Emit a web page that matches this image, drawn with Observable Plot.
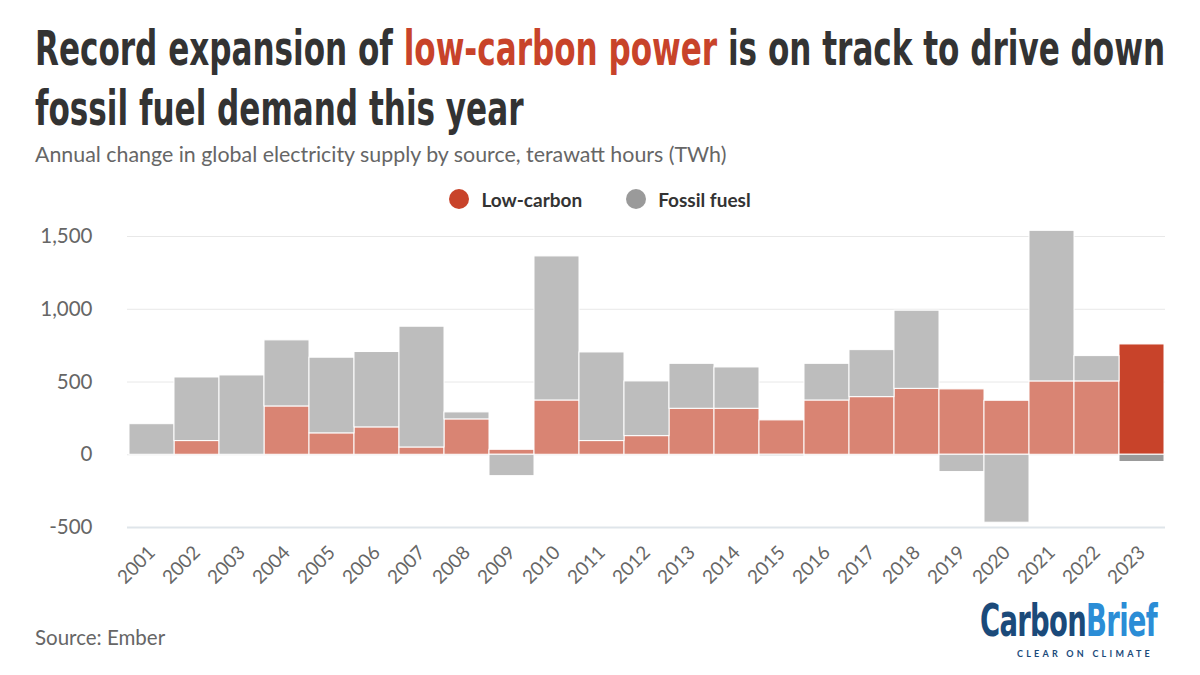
<!DOCTYPE html>
<html>
<head>
<meta charset="utf-8">
<script src="https://cdn.jsdelivr.net/npm/d3@7"></script>
<script src="https://cdn.jsdelivr.net/npm/@observablehq/plot@0.6"></script>
<style>
  html, body { margin: 0; padding: 0; background: #fff; }
  body { width: 1200px; height: 675px; position: relative; overflow: hidden; font-family: Lato, "Open Sans", sans-serif; }
  .abs { position: absolute; white-space: nowrap; }
  .title { left: 35px; font-family: "Liberation Sans Narrow", "DejaVu Sans Condensed", sans-serif; font-weight: bold; font-size: 48px; line-height: 60px; color: #333; transform-origin: left center; }
  .title .hl { color: #c8432a; }
  #subtitle { left: 35px; top: 142px; font-size: 20px; line-height: 24px; color: #666; }
  #legend { left: 0; width: 1200px; top: 187px; height: 24px; display: flex; justify-content: center; align-items: center; font-weight: bold; font-size: 19px; color: #333; }
  #legend .item { display: flex; align-items: center; margin: 0 22px; }
  #legend .sw { width: 20px; height: 20px; border-radius: 50%; margin-right: 12px; }
  #chart { position: absolute; left: 0; top: 220px; }
  #source { left: 35px; top: 625px; font-size: 20.5px; line-height: 24px; color: #666; }
  #logo { left: 980px; top: 603px; font-family: "Liberation Sans Narrow", "DejaVu Sans Condensed", sans-serif; font-weight: bold; font-size: 44px; line-height: 36px; letter-spacing: -1px; transform-origin: left center; }
  #logo .c { color: #1b4a7a; }
  #logo .b { color: #2b8dd6; }
  #tag { left: 1017px; top: 648px; font-size: 9px; line-height: 11px; letter-spacing: 3.5px; color: #1b4a7a; font-weight: bold; }
</style>
</head>
<body>
<div id="t1" class="abs title">Record expansion of <span class="hl">low-carbon power</span> is on track to drive down</div>
<div id="t2" class="abs title">fossil fuel demand this year</div>
<div id="subtitle" class="abs">Annual change in global electricity supply by source, terawatt hours (TWh)</div>
<div id="legend" class="abs">
  <div class="item"><span class="sw" style="background:#c8432a"></span>Low-carbon</div>
  <div class="item"><span class="sw" style="background:#9a9a9a"></span>Fossil fuesl</div>
</div>
<div id="chart"></div>
<div id="source" class="abs">Source: Ember</div>
<div id="logo" class="abs"><span class="c">Carbon</span><span class="b">Brief</span></div>
<div id="tag" class="abs">CLEAR ON CLIMATE</div>
<script>
// ---- Data (TWh) ----
const years = ["2001","2002","2003","2004","2005","2006","2007","2008","2009","2010","2011","2012",
               "2013","2014","2015","2016","2017","2018","2019","2020","2021","2022","2023"];
const lowCarbon = [0, 94, 0, 332, 147, 188, 50, 243, 34, 373, 94, 128,
                   316, 316, 236, 373, 396, 453, 449, 371, 504, 504, 758];
const fossil = [210, 437, 545, 454, 520, 518, 830, 48, -147, 990, 609, 376,
                309, 284, -11, 252, 323, 537, -119, -467, 1035, 174, -50];
const yTicks = [-500, 0, 500, 1000, 1500];
const highlightYear = "2023";

const rows = [];
years.forEach((y, i) => rows.push({year: y, source: "Low-carbon", value: lowCarbon[i]}));
years.forEach((y, i) => rows.push({year: y, source: "Fossil", value: fossil[i]}));

const fillFor = d => d.source === "Low-carbon"
  ? (d.year === highlightYear ? "#c8432a" : "#d98473")
  : (d.year === highlightYear ? "#9a9a9a" : "#bdbdbd");

const chart = Plot.plot({
  width: 1200,
  height: 400,
  marginTop: 16,
  marginBottom: 93,
  marginLeft: 127,
  marginRight: 35,
  style: { fontFamily: "Lato, 'Open Sans', sans-serif", color: "#666", background: "#fff" },
  x: { type: "band", domain: years, padding: 0 },
  y: { domain: [-500, 1500] },
  marks: [
    Plot.gridY([0, 500, 1000, 1500], { stroke: "#e8e8e8", strokeOpacity: 1 }),
    Plot.ruleY([-500], { stroke: "#dfe5ea", strokeWidth: 2 }),
    Plot.barY(rows, { x: "year", y: "value", fill: fillFor, stroke: "#fff", strokeWidth: 1 }),
    Plot.axisY({ ticks: yTicks, tickFormat: d => d.toLocaleString("en-US"), tickSize: 0, tickPadding: 35, fontSize: 20.5, label: null }),
    Plot.axisX({ tickRotate: -45, tickSize: 0, tickPadding: 22, fontSize: 19, label: null })
  ]
});
document.getElementById("chart").appendChild(chart);

// Fit helpers for text widths
function fitScale(el, target) {
  const w = el.getBoundingClientRect().width;
  if (w > 0) el.style.transform = `scaleX(${target / w})`;
}
const t1 = document.getElementById("t1"), t2 = document.getElementById("t2");
t1.style.top = "18px"; t2.style.top = "78px";
const w1 = t1.getBoundingClientRect().width;
const s = 1130 / w1;
t1.style.transform = `scaleX(${s})`;
t2.style.transform = `scaleX(${s})`;
fitScale(document.getElementById("logo"), 177);
const sub = document.getElementById("subtitle");
const ws = sub.getBoundingClientRect().width;
sub.style.fontSize = (20 * 692 / ws) + "px";
// tagline: adjust letter spacing to span the logo width
const tag = document.getElementById("tag");
const tw = tag.getBoundingClientRect().width;
const n = tag.textContent.length;
tag.style.letterSpacing = (3.5 + (136 - tw) / n) + "px";
</script>
</body>
</html>
